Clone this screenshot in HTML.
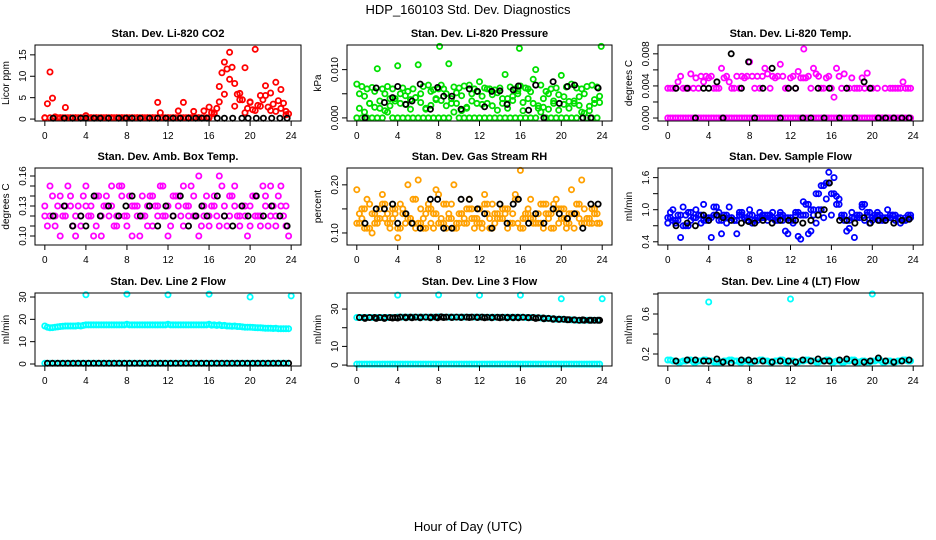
<!DOCTYPE html>
<html><head><meta charset="utf-8"><style>
body{margin:0;background:#fff;width:936px;height:540px;overflow:hidden}
svg{display:block;font-family:"Liberation Sans",Arial,sans-serif}
</style></head><body>
<svg id="chart" width="936" height="540" viewBox="0 0 936 540">
<text x="468" y="14" text-anchor="middle" font-size="13">HDP_160103  Std. Dev. Diagnostics</text>
<text x="468" y="531" text-anchor="middle" font-size="13">Hour of Day (UTC)</text>
</svg>
<script>
const H=[0,0.5,1,1.5,2,2.5,3,3.5,4,4.5,5,5.5,6,6.5,7,7.5,8,8.5,9,9.5,10,10.5,11,11.5,12,12.5,13,13.5,14,14.5,15,15.5,16,16.5,17,17.5,18,18.5,19,19.5,20,20.5,21,21.5,22,22.5,23,23.5];
const H2=[0.25,0.75,1.25,1.75,2.25,2.75,3.25,3.75,4.25,4.75,5.25,5.75,6.25,6.75,7.25,7.75,8.25,8.75,9.25,9.75,10.25,10.75,11.25,11.75,12.25,12.75,13.25,13.75,14.25,14.75,15.25,15.75,16.25,16.75,17.25,17.75,18.25,18.75,19.25,19.75,20.25,20.75,21.25,21.75,22.25,22.75,23.25,23.75];
const BH=[0.8,1.9,2.7,3.5,4,4.8,5.4,6.2,7.2,7.9,8.5,9.3,10.2,11,11.8,12.5,13.2,14,14.7,15.3,15.8,16.8,17.5,18.3,19.2,19.8,20.6,21.3,22.1,22.9,23.6];
const xTicks=[0,4,8,12,16,20,24];

// CO2
const co2Red1=[0.3,11,0.5,0.3,2.7,0.3,0.3,0.3,0.8,0.3,0.3,0.3,0.3,0.3,0.3,0.3,0.3,0.3,0.3,0.3,0.3,0.3,3.9,0.3,0.3,0.3,1.9,3.9,0.3,1.8,0.3,1.9,2.8,1.5,7.6,13.3,15.6,8.3,4.5,12,3.9,16.3,5.5,7.8,6.1,8.6,6.9,1.8];
const co2Red2=[3.6,4.9,0.3,0.3,0.3,0.3,0.3,0.3,0.3,0.3,0.3,0.3,0.3,0.3,0.3,0.3,0.3,0.3,0.3,0.3,0.3,0.3,1.5,0.3,0.3,0.3,0.3,0.3,0.3,0.3,0.3,0.3,1.5,2.5,10.8,11.7,12.1,5.8,4.5,2.5,2.2,3.2,4.5,2.8,3.5,4.3,3.7,1.2];
const co2Red3=[0.3,0.3,0.3,0.3,0.3,0.3,0.3,0.3,0.3,0.3,0.3,0.3,0.3,0.3,0.3,0.3,0.3,0.3,0.3,0.3,0.3,0.3,0.3,0.3,0.3,0.3,0.3,0.3,0.3,0.3,0.3,0.3,0.3,1.2,4,5.8,9.3,3,6,1.5,4,2,3,5.5,2,1.8,2.5,1];
const co2Black=[0.2,0.2,0.2,0.2,0.2,0.2,0.2,0.2,0.2,0.2,0.2,0.2,0.2,0.2,0.2,0.2,0.2,0.2,0.2,0.2,0.2,0.2,0.2,0.2,0.2,0.2,0.2,0.2,0.2,0.2,0.2];
// Pressure (x0.001 kPa)
const presG1=[7,6.5,6,6.3,10.2,6,6.5,6,10.8,6.2,5.5,6,11,6.5,6.8,5.8,6,6,11.2,6.4,6.2,6.6,6.8,6,7.5,6.2,6,5.8,6.2,9,6.4,6,6.6,6.2,5.4,10,6.8,5.5,6,6.2,8.8,6.4,7,6.2,6,6.5,6.8,6.4];
const presG2=[5,4.5,3,5.5,2,5,4,3.5,5,4.6,3.8,4.2,5,1.8,5.5,4,6.8,5,3,5.2,4.6,2,5,5.5,4.5,3,4.8,5.2,4,2,4.5,5.6,3.2,6,8,2.5,4,5,3,4.8,4.4,2,3.5,4.4,5,1.5,3.8,4.5];
const presG3=[0,0,0,0,0,0,1.2,0,0,0,0,0,0,0,0,0,0,0,0,1.2,0,0,0,0,0,0,0,0,0,0,0,0,0,0,0,0,1.2,0,0,0,0,0,0,0,1.2,0,0,0];
const presG4=[2,1.2,3,2.2,3.5,1.5,2.5,4,3,2.8,1.8,4.2,3.2,2,2.6,3.8,3.6,2.5,4,3,1.5,2.2,3.5,3,2.8,6,2.5,1.6,3,4,3.6,5,1.5,4,3,2,2.2,1.8,3.5,1.6,2.8,3.4,3,2.6,1,2.4,3,3.2];
const presOutH=[8.1,15.9,23.9], presOut=[14.8,14.4,14.8];
const presBlack=[0,6.2,3.2,4.2,6.5,2.8,3.5,7,1.8,6.3,4.5,4.5,1.8,6,5.5,2.3,5.5,5.6,2.8,5.8,6.6,1.6,6.8,0,7.5,3,6.5,6.8,0,0,6.2];
// Temp (x0.001)
const tempM1=[3.7,3.7,4.5,3.7,3.7,3.7,3.7,4.5,5,3.7,3.7,5,4.5,3.7,3.7,5,7,3.7,3.7,6.2,3.7,5,6.7,3.7,5,3.7,5,5,3.7,5.5,3.7,5,3.7,6.2,3.7,3.7,5,3.7,5,5.6,3.7,3.7,0,0,3.7,3.7,4.5,3.7];
const tempM2=[0,0,0,0,0,0,0,0,0,0,0,0,0,0,0,0,0,0,0,0,0,0,0,0,0,0,0,0,0,0,0,0,0,0,0,0,0,0,0,0,0,0,0,0,0,0,0,0];
const tempM3=[3.7,3.7,5.2,3.7,5.5,5,5.2,5.2,5.2,3.7,6.2,5.2,3.7,5.2,5.2,5.2,5.2,5.2,5.2,5.5,5.2,5.2,5.2,3.7,5.2,5.8,5,5.2,6.2,5.2,3.7,5.2,2.6,5.2,5.5,3.7,3.7,3.7,3.7,3.7,0,0,3.7,3.7,3.7,3.7,3.7,3.7];
const tempOutH=[13.3], tempOut=[8.6];
const tempBlack=[3.7,3.7,0,3.7,3.7,4.5,0,8,3.7,7,0,3.7,6.2,0,3.7,3.7,0,0,3.7,0,3.7,0,3.7,0,4.5,3.7,0,0,0,0,0];
// Amb box temp
const ambA1=[.13,.12,.11,.14,.12,.13,.10,.12,.15,.13,.11,.12,.14,.13,.12,.15,.11,.13,.12,.14,.13,.11,.12,.15,.13,.12,.14,.11,.13,.12,.16,.13,.12,.14,.11,.13,.12,.15,.12,.13,.11,.14,.12,.13,.15,.12,.13,.11];
const ambA2=[.11,.14,.13,.12,.15,.11,.13,.14,.12,.10,.14,.13,.12,.11,.15,.12,.14,.13,.10,.12,.14,.13,.15,.12,.11,.14,.12,.13,.15,.12,.11,.14,.13,.12,.15,.11,.14,.12,.13,.10,.14,.12,.15,.11,.13,.14,.12,.10];
const ambA3=[.12,.15,.12,.10,.13,.14,.12,.11,.13,.12,.14,.10,.13,.15,.11,.14,.12,.10,.13,.12,.11,.14,.13,.12,.10,.14,.13,.15,.12,.14,.10,.12,.11,.13,.16,.12,.14,.13,.11,.12,.13,.12,.11,.14,.12,.11,.15,.13];
const ambBlack=[.12,.13,.11,.12,.11,.14,.12,.13,.12,.13,.14,.12,.13,.11,.13,.12,.14,.11,.12,.13,.12,.14,.12,.11,.13,.12,.14,.12,.13,.12,.11];
// RH
const rhO1=[.12,.15,.11,.14,.13,.16,.12,.15,.11,.14,.13,.17,.12,.11,.15,.14,.12,.16,.13,.11,.14,.12,.15,.13,.12,.16,.11,.14,.13,.15,.12,.17,.11,.14,.13,.12,.16,.14,.11,.15,.13,.12,.14,.16,.12,.13,.15,.12];
const rhO2=[.14,.11,.16,.12,.15,.13,.11,.14,.16,.12,.13,.11,.15,.14,.12,.19,.13,.11,.16,.12,.14,.15,.13,.12,.11,.14,.16,.13,.15,.11,.14,.12,.13,.15,.12,.14,.11,.13,.16,.12,.15,.14,.11,.13,.15,.12,.14,.12];
const rhO3=[.19,.13,.17,.10,.12,.18,.14,.13,.09,.15,.20,.12,.21,.13,.16,.11,.18,.12,.14,.20,.12,.13,.17,.11,.15,.18,.13,.12,.16,.14,.12,.18,.23,.13,.17,.14,.12,.16,.14,.17,.15,.11,.19,.14,.21,.13,.12,.14];
const rhBlack=[.12,.15,.15,.16,.12,.14,.12,.11,.17,.17,.11,.11,.17,.17,.15,.14,.11,.16,.12,.16,.17,.12,.14,.12,.15,.14,.13,.14,.11,.16,.16];
// Sample flow
const sfB1=[.85,.8,.9,.7,.95,.85,.9,.8,.85,1.05,.8,.9,.85,.8,.95,.85,.9,.8,.85,.9,.85,.8,.9,.85,.8,.95,.9,1.1,1.0,1.3,1.45,1.5,1.3,1.1,.9,.8,.85,.9,1.1,.95,.85,.9,.8,.85,.9,.85,.8,.85];
const sfB2=[.95,.75,.48,.9,.8,1.0,.75,.85,.48,.9,.55,.75,.85,.55,.9,.8,.75,.85,.9,.8,.95,.85,.8,.55,.75,.5,1.15,.55,.9,1.0,.85,1.7,1.6,1.2,.8,.65,.48,.85,.8,.75,.9,.8,.85,.9,.8,.75,.85,.9];
const sfB3=[.75,1.0,.8,1.05,.7,.85,.9,1.1,.8,.9,.95,.85,1.05,.8,.9,.85,1.0,.8,.95,.85,.9,.8,.95,.6,.85,.9,.45,.9,.6,.75,1.0,1.2,.9,1.25,.85,.6,.95,.85,1.05,.9,.8,.95,.85,1.0,.9,.85,.8,.9];
const sfBlack=[.7,.75,.7,.9,.8,.9,.85,.8,.75,.78,.75,.8,.75,.8,.8,.8,.75,.8,.9,1.0,1.5,.8,.8,.75,.85,.75,.8,.8,.75,.8,.82];
// Line 2
const l2C1=[17,16.2,16.5,16.8,17,17,17,17,17.5,17.5,17.5,17.5,17.5,17.5,17.5,17.5,17.8,17.5,17.5,17.5,17.5,17.5,17.5,17.5,17.8,17.5,17.5,17.5,17.5,17.5,17.5,17.5,17.8,17.5,17.5,17.3,17,17,16.8,16.5,16.5,16.3,16.2,16,16,16,15.8,15.8];
const l2C2=[16.5,16.3,16.6,16.9,17,17,17.2,17.3,17.5,17.5,17.5,17.5,17.5,17.5,17.5,17.5,17.5,17.5,17.5,17.5,17.5,17.5,17.5,17.5,17.5,17.5,17.5,17.5,17.5,17.5,17.5,17.5,17.4,17.3,17.2,17,16.9,16.8,16.6,16.5,16.4,16.2,16.1,16,15.9,15.8,15.8,15.8];
const l2Zero=[0.3,0.3,0.3,0.3,0.3,0.3,0.3,0.3,0.3,0.3,0.3,0.3,0.3,0.3,0.3,0.3,0.3,0.3,0.3,0.3,0.3,0.3,0.3,0.3,0.3,0.3,0.3,0.3,0.3,0.3,0.3,0.3,0.3,0.3,0.3,0.3,0.3,0.3,0.3,0.3,0.3,0.3,0.3,0.3,0.3,0.3,0.3,0.3];
const l2OutH=[4,8,12,16,20,24], l2Out=[31,31.3,31,31.3,30,30.5];
// Line 3
const l3C=[25.5,25.5,25.5,25.5,25.5,25.5,25.5,25.5,25.7,25.7,25.7,25.7,25.7,25.7,25.7,25.7,25.8,25.7,25.7,25.7,25.7,25.7,25.7,25.7,25.7,25.6,25.6,25.6,25.6,25.6,25.6,25.6,25.6,25.5,25.5,25.3,25.2,25,24.8,24.5,24.5,24.3,24.2,24,24,24,24,24];
const l3Black=[25,25,25,25.2,25.2,25.3,25.3,25.3,25.3,25.3,25.5,25.5,25.5,25.5,25.5,25.3,25.3,25.3,25.3,25.3,25.3,25.3,25,24.8,24.5,24.5,24.3,24.2,24.2,24,24];
const l3Zero=[0.5,0.5,0.5,0.5,0.5,0.5,0.5,0.5,0.5,0.5,0.5,0.5,0.5,0.5,0.5,0.5,0.5,0.5,0.5,0.5,0.5,0.5,0.5,0.5,0.5,0.5,0.5,0.5,0.5,0.5,0.5,0.5,0.5,0.5,0.5,0.5,0.5,0.5,0.5,0.5,0.5,0.5,0.5,0.5,0.5,0.5,0.5,0.5];
const l3OutH=[4,8,12,16,20,24], l3Out=[37.5,37.6,37.4,37.5,35.5,35.5];
// Line 4
const l4C=[.14,.13,.12,.13,.14,.12,.13,.14,.13,.12,.12,.13,.14,.13,.12,.13,.12,.13,.14,.13,.12,.13,.14,.12,.13,.12,.13,.14,.13,.12,.13,.14,.12,.13,.12,.13,.14,.12,.13,.12,.13,.14,.12,.13,.12,.13,.14,.13];
const l4Black=[.13,.14,.14,.13,.13,.15,.12,.11,.14,.14,.13,.13,.12,.13,.13,.12,.14,.13,.15,.13,.13,.14,.15,.12,.12,.13,.16,.13,.12,.13,.14];
const l4OutH=[4,12,20], l4Out=[.72,.75,.80];

const NS='http://www.w3.org/2000/svg';
const svg=document.getElementById('chart');
function mk(tag,attrs,parent,txt){const e=document.createElementNS(NS,tag);for(const k in attrs)e.setAttribute(k,attrs[k]);if(txt!==undefined)e.textContent=txt;(parent||svg).appendChild(e);return e;}

const colL=[35,347,658], colR=[301,612,923], rowT=[45,168,293], rowB=[121,245,366];
const panels=[
 {name:'co2',title:'Stan. Dev. Li-820 CO2',yl:'Licor ppm',c:0,r:0,dom:[-0.45,17.3],yt:[0,5,10,15],ylab:['0','5','10','15'],
  series:[[H,co2Red1,'#ff0000'],[H2,co2Red2,'#ff0000'],[H,co2Red3,'#ff0000'],[BH,co2Black,'#000']]},
 {name:'pressure',title:'Stan. Dev. Li-820 Pressure',yl:'kPa',c:1,r:0,dom:[-0.64,15.1],yt:[0,5,10],ylab:['0.000','','0.010'],
  series:[[H,presG1,'#00e000'],[H2,presG2,'#00e000'],[H,presG3,'#00e000'],[H2,presG4,'#00e000'],[presOutH,presOut,'#00e000'],[BH,presBlack,'#000']]},
 {name:'temp',title:'Stan. Dev. Li-820 Temp.',yl:'degrees C',c:2,r:0,dom:[-0.37,9.1],yt:[0,2,4,6,8],ylab:['0.000','','0.004','','0.008'],
  series:[[H,tempM1,'#ff00ff'],[H2,tempM2,'#ff00ff'],[H,tempM2,'#ff00ff'],[H2,tempM3,'#ff00ff'],[tempOutH,tempOut,'#ff00ff'],[BH,tempBlack,'#000']]},
 {name:'amb-temp',title:'Stan. Dev. Amb. Box Temp.',yl:'degrees C',c:0,r:1,dom:[0.091,0.168],yt:[.10,.11,.12,.13,.14,.15,.16],ylab:['0.10','','','0.13','','','0.16'],
  series:[[H,ambA1,'#ff00ff'],[H2,ambA2,'#ff00ff'],[H,ambA3,'#ff00ff'],[BH,ambBlack,'#000']]},
 {name:'gas-rh',title:'Stan. Dev. Gas Stream RH',yl:'percent',c:1,r:1,dom:[0.075,0.235],yt:[.10,.15,.20],ylab:['0.10','','0.20'],
  series:[[H,rhO1,'#ffa000'],[H2,rhO2,'#ffa000'],[H,rhO3,'#ffa000'],[H2,rhO1,'#ffa000'],[BH,rhBlack,'#000']]},
 {name:'sample-flow',title:'Stan. Dev. Sample Flow',yl:'ml/min',c:2,r:1,dom:[0.34,1.78],yt:[.4,.7,1.0,1.3,1.6],ylab:['0.4','','1.0','','1.6'],
  series:[[H,sfB1,'#0000ff'],[H2,sfB2,'#0000ff'],[H,sfB3,'#0000ff'],[H2,sfB1,'#0000ff'],[BH,sfBlack,'#000']]},
 {name:'line2-flow',title:'Stan. Dev. Line 2 Flow',yl:'ml/min',c:0,r:2,dom:[-0.9,31.8],yt:[0,10,20,30],ylab:['0','10','20','30'],
  series:[[H,l2C1,'#00ffff'],[H2,l2C2,'#00ffff'],[H,l2Zero,'#00ffff'],[l2OutH,l2Out,'#00ffff'],[H2,l2Zero,'#000']]},
 {name:'line3-flow',title:'Stan. Dev. Line 3 Flow',yl:'ml/min',c:1,r:2,dom:[-0.5,38.6],yt:[0,10,20,30],ylab:['0','10','','30'],
  series:[[H,l3C,'#00ffff'],[H,l3Zero,'#00ffff'],[H2,l3Zero,'#00ffff'],[l3OutH,l3Out,'#00ffff'],[BH,l3Black,'#000'],[H2,l3C,'#000']]},
 {name:'line4-flow',title:'Stan. Dev. Line 4 (LT) Flow',yl:'ml/min',c:2,r:2,dom:[0.08,0.81],yt:[.2,.4,.6,.8],ylab:['0.2','','0.6',''],
  series:[[H,l4C,'#00ffff'],[H2,l4C,'#00ffff'],[l4OutH,l4Out,'#00ffff'],[BH,l4Black,'#000']]}
];

panels.forEach(p=>{
  const L=colL[p.c],R=colR[p.c],T=rowT[p.r],B=rowB[p.r],w=R-L;
  const x0=L+0.037*w,x1=R-0.037*w;
  const xs=v=>x0+(v/24)*(x1-x0);
  const ys=v=>B-(v-p.dom[0])/(p.dom[1]-p.dom[0])*(B-T);
  const g=mk('g',{});
  
  
  const t=mk('text',{x:(L+R)/2,y:T-8,'text-anchor':'middle','font-size':11,'font-weight':'bold'},g,p.title);
  
  
  const ylab=mk('text',{x:0,y:0,'text-anchor':'middle','font-size':10,transform:`translate(${L-26},${(T+B)/2}) rotate(-90)`},g,p.yl);
  
  
  const plot=mk('g',{},g);
  
  
  p.series.forEach(s=>{
    const [hx,vy,col]=s;
    for(let i=0;i<vy.length&&i<hx.length;i++){
      const c=mk('circle',{cx:xs(hx[i]).toFixed(1),cy:ys(vy[i]).toFixed(1),r:2.6,fill:'none',stroke:col,'stroke-width':1.8},plot);
      
      
    }
  });
  const box=mk('rect',{x:L,y:T,width:w,height:B-T,fill:'none',stroke:'#000','stroke-width':1},g);
  
  
  xTicks.forEach(v=>{
    const x=xs(v);
    const tk=mk('line',{x1:x,x2:x,y1:B,y2:B+5,stroke:'#000'},g);
    
    
    const tl=mk('text',{x:x,y:B+18,'text-anchor':'middle','font-size':10},g,String(v));
    
    
  });
  p.yt.forEach((v,i)=>{
    const y=ys(v);
    const tk=mk('line',{x1:L-5,x2:L,y1:y,y2:y,stroke:'#000'},g);
    
    
    if(p.ylab[i]){
      const tl=mk('text',{x:0,y:0,'text-anchor':'middle','font-size':10,transform:`translate(${L-9},${y}) rotate(-90)`},g,p.ylab[i]);
      
      
    }
  });
});
</script>
</body></html>
